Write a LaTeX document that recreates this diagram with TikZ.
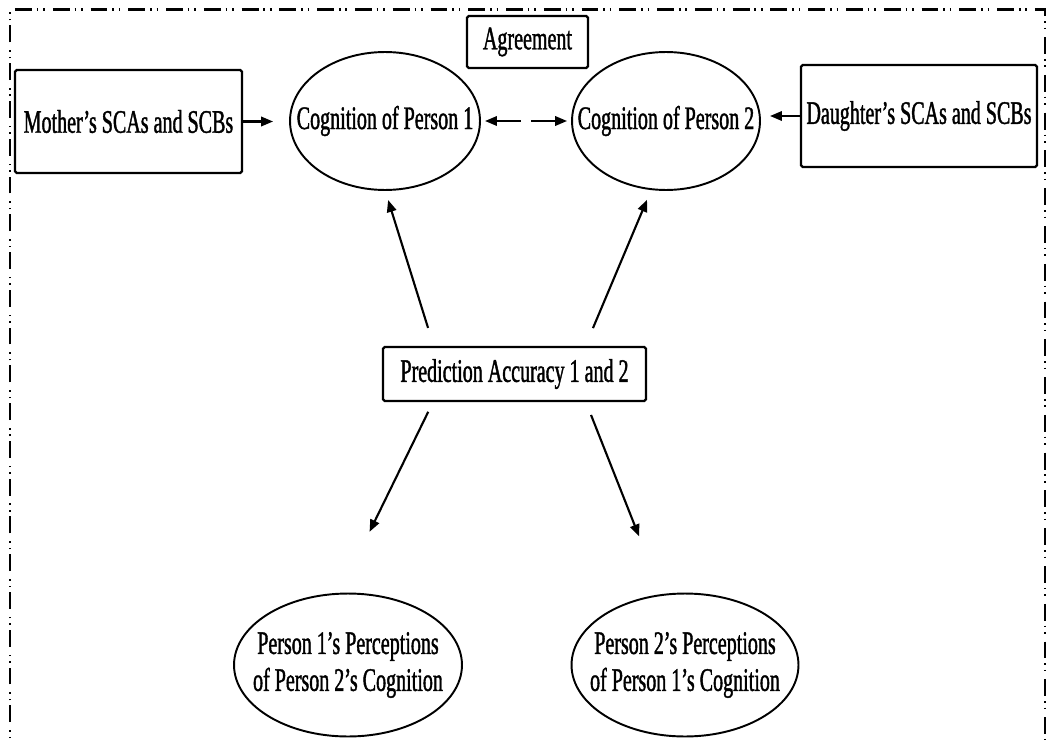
\documentclass[tikz,border=0pt]{standalone}
\usepackage{fontspec}
\setmainfont[FakeStretch=0.61,FakeBold=1.2]{Liberation Serif}
\usetikzlibrary{shapes.geometric,arrows.meta,calc}
\begin{document}
\begin{tikzpicture}[x=0.02cm,y=-0.02cm,
  txt/.style={font=\fontsize{18.7}{21}\selectfont},
  box/.style={txt, draw, line width=1.3pt, rectangle, rounded corners=1pt, inner sep=0pt, outer sep=0pt},
  oval/.style={txt, draw, line width=1.1pt, ellipse, inner sep=0pt, outer sep=0pt},
  tip/.style={Triangle[length=0.24cm,width=0.19cm]},
  arr/.style={line width=1.2pt, -{Triangle[length=0.24cm,width=0.19cm]}},
  darr/.style={line width=1.2pt, {Triangle[length=0.24cm,width=0.19cm]}-{Triangle[length=0.24cm,width=0.19cm]}},
  frame/.style={line width=1.2pt, dash pattern=on 9.6pt off 2.8pt on 0.9pt off 2.8pt on 0.9pt off 4.5pt}]
\useasboundingbox (0,0) rectangle (1047,740);
\clip (0,0) rectangle (1047,740);
\draw[frame] (10,760) -- (10,9.5) -- (1045,9.5) -- (1045,760);

\node[box, minimum width=4.54cm, minimum height=2.06cm] (mother) at (128.5,121.5) {Mother’s SCAs and SCBs};
\node[box, minimum width=4.72cm, minimum height=2.04cm] (daughter) at (919,116) {Daughter’s SCAs and SCBs};
\node[box, minimum width=2.42cm, minimum height=1.04cm] (agree) at (527.5,42) {Agreement};
\node[oval, minimum width=3.8cm, minimum height=2.76cm] (c1) at (385,121) {\makebox[0pt]{Cognition of Person 1}};
\node[oval, minimum width=3.76cm, minimum height=2.76cm] (c2) at (666,121) {\makebox[0pt]{Cognition of Person 2}};
\node[box, minimum width=5.26cm, minimum height=1.08cm] (pred) at (514.5,374) {Prediction Accuracy 1 and 2};
\node[oval, minimum width=4.56cm, minimum height=2.86cm] (p1) at (348,665) {\makebox[0pt]{\begin{tabular}{@{}c@{}}Person 1’s Perceptions\\of Person 2’s Cognition\end{tabular}}};
\node[oval, minimum width=4.54cm, minimum height=2.86cm] (p2) at (685,665) {\makebox[0pt]{\begin{tabular}{@{}c@{}}Person 2’s Perceptions\\of Person 1’s Cognition\end{tabular}}};

\draw[arr, shorten >=0.34cm] (mother.east) -- (mother.east -| c1.west);
\draw[arr, shorten >=0.2cm] (daughter.west) -- (daughter.west -| c2.east);
\draw[darr, dash pattern=on 0.5cm off 0.2cm, shorten <=0.1cm, shorten >=0.1cm] (c1.east) -- (c2.west);

\draw[arr, shorten <=0.4cm, shorten >=0.21cm] ([xshift=-1.61cm]pred.north) -- (c1.south);
\draw[arr, shorten <=0.41cm, shorten >=0.23cm] ([xshift=1.41cm]pred.north) -- (c2.258);
\draw[arr, shorten <=0.24cm, shorten >=1.38cm] ([xshift=-1.62cm]pred.south) -- (p1.97);
\draw[arr, shorten <=0.3cm, shorten >=1.26cm] ([xshift=1.42cm]pred.south) -- (p2.108);
\end{tikzpicture}
\end{document}
